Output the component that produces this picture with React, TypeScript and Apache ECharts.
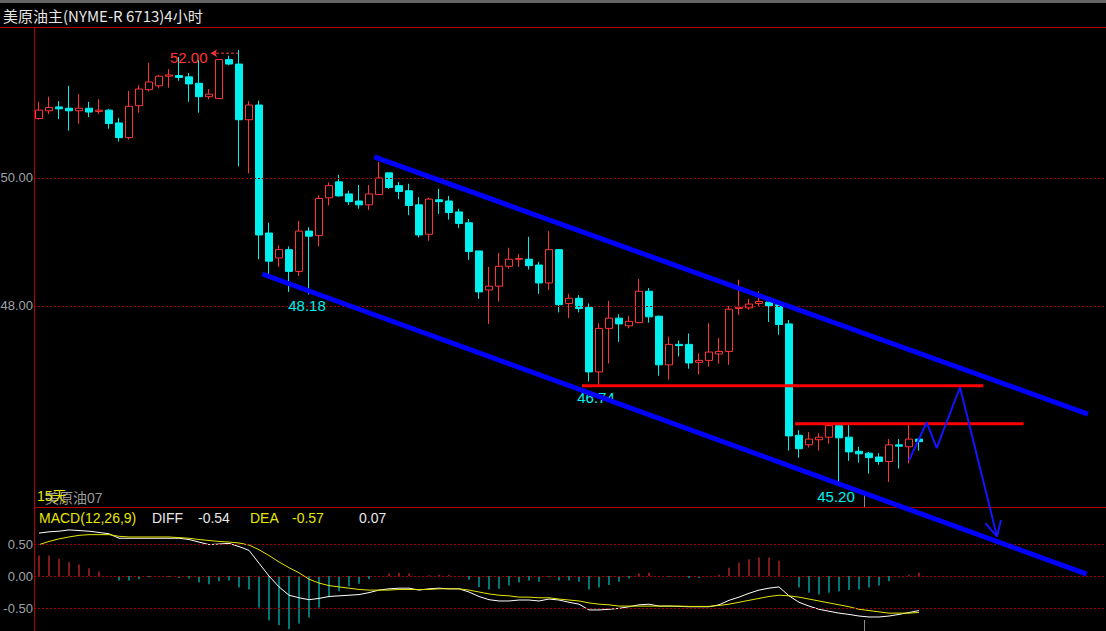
import React, { useEffect, useRef } from 'react';
import * as echarts from 'echarts';

// ---------- data ----------
const opens = [50.93, 51.05, 51.11, 51.09, 51.05, 51.09, 51.04, 51.06, 50.86, 50.63,
  51.13, 51.38, 51.44, 51.59, 51.60, 51.58, 51.48, 51.27, 51.24, 51.85,
  51.78, 50.91, 51.14, 49.14, 48.75, 48.88, 48.54, 49.17, 49.10, 49.69,
  49.94, 49.75, 49.64, 49.58, 49.74, 50.08, 49.88, 49.80, 49.58, 49.12,
  49.66, 49.64, 49.47, 49.30, 48.86, 48.25, 48.31, 48.62, 48.73, 48.73,
  48.64, 48.36, 48.88, 48.04, 48.12, 47.98, 46.97, 47.65, 47.81, 47.69,
  47.74, 48.23, 47.84, 47.08, 47.40, 47.40, 47.12, 47.15, 47.25, 47.29,
  47.96, 47.97, 48.04, 48.06, 48.02, 47.72, 45.98, 45.83, 45.91, 45.95,
  46.13, 45.95, 45.73, 45.70, 45.64, 45.57, 45.83, 45.80, 45.92];
const closes = [51.06, 51.10, 51.08, 51.05, 51.09, 51.03, 51.06, 50.85, 50.63, 51.12,
  51.39, 51.50, 51.59, 51.61, 51.57, 51.47, 51.27, 51.31, 51.85, 51.78,
  50.91, 51.14, 49.11, 48.70, 48.88, 48.54, 49.17, 49.09, 49.68, 49.88,
  49.72, 49.63, 49.58, 49.75, 50.00, 49.85, 49.79, 49.57, 49.11, 49.67,
  49.63, 49.46, 49.29, 48.85, 48.22, 48.31, 48.62, 48.73, 48.74, 48.63,
  48.36, 48.88, 48.02, 48.12, 47.96, 46.97, 47.65, 47.81, 47.72, 47.76,
  48.23, 47.83, 47.08, 47.40, 47.38, 47.11, 47.15, 47.28, 47.29, 47.95,
  47.98, 48.03, 48.07, 48.00, 47.71, 45.97, 45.77, 45.92, 45.95, 46.13,
  45.94, 45.72, 45.69, 45.63, 45.57, 45.83, 45.81, 45.92, 45.88];
const lows = [50.91, 51.00, 50.92, 50.74, 50.85, 50.95, 51.00, 50.77, 50.57, 50.60,
  51.02, 51.35, 51.40, 51.41, 51.52, 51.19, 51.02, 51.23, 51.24, 51.76,
  50.18, 50.07, 48.73, 48.48, 48.61, 48.22, 48.47, 48.18, 48.93, 49.57,
  49.71, 49.58, 49.52, 49.50, 49.74, 49.83, 49.67, 49.42, 49.07, 49.02,
  49.44, 49.35, 49.22, 48.72, 48.11, 47.72, 48.07, 48.58, 48.61, 48.57,
  48.19, 48.25, 47.90, 47.81, 47.90, 46.82, 46.74, 47.10, 47.44, 47.65,
  47.73, 47.74, 46.91, 46.85, 47.21, 47.02, 46.93, 47.05, 47.10, 47.08,
  47.86, 47.94, 48.00, 47.75, 47.55, 45.74, 45.63, 45.79, 45.74, 45.85,
  45.20, 45.58, 45.55, 45.38, 45.52, 45.25, 45.46, 45.54, 45.74];
const highs = [51.19, 51.27, 51.20, 51.44, 51.31, 51.19, 51.23, 51.08, 50.94, 51.36,
  51.45, 51.80, 51.61, 51.70, 51.89, 51.64, 51.84, 51.39, 51.85, 51.91,
  52.00, 51.20, 51.21, 49.30, 48.95, 48.93, 49.33, 49.23, 49.73, 49.93,
  50.05, 49.80, 49.89, 49.89, 50.25, 50.08, 49.94, 49.91, 49.70, 49.69,
  49.83, 49.72, 49.52, 49.36, 48.86, 48.61, 48.83, 48.91, 48.81, 49.08,
  48.69, 49.17, 48.89, 48.19, 48.17, 48.04, 47.73, 48.08, 47.87, 47.85,
  48.42, 48.28, 47.85, 47.52, 47.46, 47.57, 47.26, 47.73, 47.50, 48.00,
  48.41, 48.11, 48.23, 48.07, 48.09, 47.78, 46.06, 46.03, 46.01, 46.14,
  46.14, 46.14, 45.80, 45.72, 45.70, 45.92, 45.92, 46.15, 45.92];

const macdHist = [0.32, 0.32, 0.27, 0.22, 0.18, 0.12, 0.07, 0.00, -0.07, -0.07,
  -0.05, -0.02, -0.01, -0.01, -0.03, -0.04, -0.10, -0.13, -0.08, -0.07,
  -0.18, -0.21, -0.49, -0.69, -0.77, -0.83, -0.74, -0.65, -0.49, -0.33,
  -0.24, -0.16, -0.12, -0.05, 0.00, 0.04, 0.05, 0.04, -0.01, 0.01,
  0.02, 0.02, 0.00, -0.06, -0.17, -0.21, -0.20, -0.15, -0.10, -0.07,
  -0.09, -0.01, -0.07, -0.07, -0.09, -0.21, -0.18, -0.14, -0.09, -0.04,
  0.04, 0.05, -0.01, -0.01, 0.00, -0.03, -0.03, 0.00, 0.02, 0.13,
  0.21, 0.26, 0.29, 0.29, 0.24, 0.00, -0.18, -0.26, -0.29, -0.26,
  -0.24, -0.22, -0.21, -0.18, -0.15, -0.08, -0.02, 0.02, 0.05];
const diffLine = [0.67, 0.69, 0.70, 0.72, 0.71, 0.70, 0.68, 0.66, 0.59, 0.59,
  0.59, 0.59, 0.59, 0.59, 0.59, 0.57, 0.53, 0.49, 0.50, 0.51,
  0.46, 0.40, 0.20, 0.00, -0.17, -0.30, -0.34, -0.37, -0.35, -0.32,
  -0.31, -0.30, -0.29, -0.26, -0.22, -0.20, -0.19, -0.19, -0.22, -0.20,
  -0.19, -0.20, -0.20, -0.25, -0.32, -0.37, -0.39, -0.39, -0.375, -0.375,
  -0.39, -0.36, -0.375, -0.41, -0.44, -0.53, -0.53, -0.52, -0.505, -0.48,
  -0.45, -0.44, -0.47, -0.47, -0.475, -0.48, -0.48, -0.48, -0.45, -0.38,
  -0.33, -0.27, -0.22, -0.19, -0.17, -0.31, -0.41, -0.47, -0.52, -0.55,
  -0.58, -0.60, -0.625, -0.64, -0.64, -0.625, -0.60, -0.57, -0.54];
const deaLine = [0.49, 0.54, 0.58, 0.61, 0.635, 0.646, 0.646, 0.646, 0.62, 0.61,
  0.61, 0.61, 0.61, 0.61, 0.60, 0.59, 0.57, 0.555, 0.54, 0.53,
  0.516, 0.484, 0.41, 0.32, 0.22, 0.13, 0.05, -0.05, -0.11, -0.15,
  -0.17, -0.19, -0.21, -0.22, -0.22, -0.22, -0.21, -0.21, -0.21, -0.21,
  -0.20, -0.20, -0.20, -0.22, -0.25, -0.28, -0.30, -0.31, -0.33, -0.33,
  -0.34, -0.34, -0.36, -0.375, -0.39, -0.42, -0.44, -0.45, -0.47, -0.47,
  -0.47, -0.47, -0.47, -0.47, -0.47, -0.475, -0.475, -0.475, -0.46, -0.44,
  -0.41, -0.38, -0.35, -0.32, -0.30, -0.31, -0.33, -0.36, -0.39, -0.42,
  -0.45, -0.48, -0.52, -0.54, -0.56, -0.58, -0.58, -0.58, -0.57];

const priceTicks = [50, 48];
const macdTicks = [0.5, 0, -0.5];

// annotation lines, in [bar index, price]
const upperChannel = [[33.53, 50.33], [104.9, 46.31]];
const lowerChannel = [[22.33, 48.50], [104.77, 43.81]];
const resistance1 = [[54.3, 46.755], [94.43, 46.755]];
const resistance2 = [[75.6, 46.16], [98.45, 46.16]];
const forecastPath = [[87.0, 45.59], [88.77, 46.18], [89.77, 45.78], [92.1, 46.73], [95.8, 44.40]];
const arrowHead = [[94.63, 44.605], [95.8, 44.40], [96.2, 44.656]];
const highArrow = [[17.2, 51.95], [19.9, 51.95]];

const TOTAL_SLOTS = 107;
const slots = Array.from({ length: TOTAL_SLOTS }, (_, i) => String(i + 1));

const RED = '#ff3535';
const CYAN = '#00f0f0';
const FRAME = '#b40000';
const GRID = '#a00000';
const AXIS_TXT = '#9ea3aa';

function buildOption() {
  const candleData = opens.map((o, i) => [o, closes[i], lows[i], highs[i]]);
  const gridMark = (vals: number[], xi: number, yi: number) => ({
    type: 'line',
    xAxisIndex: xi,
    yAxisIndex: yi,
    data: [],
    z: 1,
    silent: true,
    markLine: {
      silent: true,
      symbol: ['none', 'none'],
      animation: false,
      lineStyle: { color: GRID, type: [2, 2], width: 1 },
      label: {
        show: true,
        position: 'start',
        distance: 1,
        color: AXIS_TXT,
        fontSize: 13,
        fontFamily: 'Liberation Sans, Arial, sans-serif',
      },
      data: vals.map((v) => ({ yAxis: v, label: { formatter: v.toFixed(2) } })),
    },
  });
  const overlay = (data: number[][], color: string, width: number, extra: any = {}) => ({
    type: 'line',
    xAxisIndex: 2,
    yAxisIndex: 0,
    data,
    symbol: 'none',
    clip: false,
    silent: true,
    z: 5,
    lineStyle: { color, width, ...extra },
  });
  const lowLabel = (idx: number, val: number, dx: number) => ({
    coord: [slots[idx], val],
    value: val.toFixed(2),
    label: {
      show: true,
      position: 'bottom',
      distance: 3,
      offset: [dx, 0],
      color: CYAN,
      fontSize: 15,
      fontFamily: 'Liberation Sans, Arial, sans-serif',
      formatter: val.toFixed(2),
    },
  });

  return {
    animation: false,
    backgroundColor: '#000',
    grid: [
      { left: 34, top: 27, width: 1070, height: 480 },
      { left: 34, top: 507, width: 1070, height: 124 },
    ],
    xAxis: [
      { type: 'category', gridIndex: 0, data: slots, show: false, boundaryGap: true },
      { type: 'category', gridIndex: 1, data: slots, show: false, boundaryGap: true },
      { type: 'value', gridIndex: 0, min: -0.5, max: TOTAL_SLOTS - 0.5, show: false },
    ],
    yAxis: [
      { type: 'value', gridIndex: 0, min: 44.859, max: 52.359, show: false, splitLine: { show: false } },
      { type: 'value', gridIndex: 1, min: -0.859, max: 1.078, show: false, splitLine: { show: false } },
    ],
    series: [
      gridMark(priceTicks, 0, 0),
      gridMark(macdTicks, 1, 1),
      {
        type: 'candlestick',
        xAxisIndex: 0,
        yAxisIndex: 0,
        data: candleData,
        barWidth: 8,
        z: 3,
        itemStyle: {
          color: '#000',
          color0: CYAN,
          borderColor: RED,
          borderColor0: CYAN,
          borderWidth: 1,
        },
        markPoint: {
          symbol: 'rect',
          symbolSize: 1,
          silent: true,
          animation: false,
          itemStyle: { color: 'rgba(0,0,0,0)' },
          data: [
            {
              coord: [slots[20], 52.0],
              value: '52.00',
              label: {
                show: true,
                position: 'left',
                distance: 0,
                offset: [-31, 8],
                color: RED,
                fontSize: 15,
                fontFamily: 'Liberation Sans, Arial, sans-serif',
                formatter: '52.00',
              },
            },
            lowLabel(27, 48.18, -2),
            lowLabel(56, 46.74, -3),
            lowLabel(80, 45.2, -3),
          ],
        },
      },
      {
        type: 'line',
        xAxisIndex: 2,
        yAxisIndex: 0,
        clip: false,
        silent: true,
        z: 4,
        showSymbol: true,
        symbol: 'none',
        lineStyle: { color: RED, width: 1, type: [3, 2] },
        data: [
          { value: highArrow[0], symbol: 'arrow', symbolSize: [6, 6], symbolRotate: 90, itemStyle: { color: RED } },
          { value: highArrow[1], symbol: 'none' },
        ],
      },
      overlay(upperChannel, '#0000ff', 5),
      overlay(lowerChannel, '#0000ff', 5),
      overlay(resistance1, '#ff0000', 3),
      overlay(resistance2, '#ff0000', 3),
      overlay(forecastPath, '#1414ff', 2),
      overlay(arrowHead, '#1414ff', 2),
      {
        type: 'bar',
        xAxisIndex: 1,
        yAxisIndex: 1,
        data: macdHist,
        barWidth: 1,
        z: 2,
        itemStyle: {
          color: (p: any) => (p.value >= 0 ? RED : CYAN),
        },
      },
      {
        type: 'line',
        xAxisIndex: 1,
        yAxisIndex: 1,
        data: diffLine,
        symbol: 'none',
        z: 3,
        lineStyle: { color: '#ffffff', width: 1 },
      },
      {
        type: 'line',
        xAxisIndex: 1,
        yAxisIndex: 1,
        data: deaLine,
        symbol: 'none',
        z: 3,
        lineStyle: { color: '#e6e600', width: 1 },
      },
    ],
    graphic: [
      { type: 'rect', shape: { x: 0, y: 0, width: 1106, height: 3 }, style: { fill: '#666666' }, silent: true },
      { type: 'line', shape: { x1: 0, y1: 27.5, x2: 1106, y2: 27.5 }, style: { stroke: FRAME, lineWidth: 1 }, silent: true },
      { type: 'line', shape: { x1: 34.5, y1: 27, x2: 34.5, y2: 631 }, style: { stroke: FRAME, lineWidth: 1 }, silent: true },
      { type: 'line', shape: { x1: 34, y1: 507.5, x2: 1106, y2: 507.5 }, style: { stroke: FRAME, lineWidth: 1 }, silent: true },
      { type: 'line', shape: { x1: 864.5, y1: 495, x2: 864.5, y2: 507 }, style: { stroke: '#8a8a8a', lineWidth: 1 }, silent: true },
      { type: 'line', shape: { x1: 864.5, y1: 620, x2: 864.5, y2: 631 }, style: { stroke: '#8a8a8a', lineWidth: 1 }, silent: true },
      {
        type: 'text', x: 3, y: 15, silent: true,
        style: { text: '美原油主(NYME-R 6713)4小时', fill: '#e6e6e6', font: '15px "Noto Sans CJK SC", sans-serif', textVerticalAlign: 'middle' },
      },
      {
        type: 'text', x: 45, y: 498, silent: true,
        style: { text: '美原油07', fill: '#9a9a9a', font: '14px "Liberation Sans", "Noto Sans CJK SC", sans-serif', textVerticalAlign: 'middle' },
      },
      {
        type: 'text', x: 37, y: 496, silent: true,
        style: { text: '15天', fill: '#e6e600', font: '14px "Liberation Sans", "Noto Sans CJK SC", sans-serif', textVerticalAlign: 'middle' },
      },
      {
        type: 'text', x: 39, y: 518, silent: true,
        style: { text: 'MACD(12,26,9)', fill: '#e6e600', font: '14px "Liberation Sans", Arial, sans-serif', textVerticalAlign: 'middle' },
      },
      {
        type: 'text', x: 152, y: 518, silent: true,
        style: { text: 'DIFF', fill: '#e8e8e8', font: '14px "Liberation Sans", Arial, sans-serif', textVerticalAlign: 'middle' },
      },
      {
        type: 'text', x: 198, y: 518, silent: true,
        style: { text: '-0.54', fill: '#e8e8e8', font: '14px "Liberation Sans", Arial, sans-serif', textVerticalAlign: 'middle' },
      },
      {
        type: 'text', x: 250, y: 518, silent: true,
        style: { text: 'DEA', fill: '#e6e600', font: '14px "Liberation Sans", Arial, sans-serif', textVerticalAlign: 'middle' },
      },
      {
        type: 'text', x: 292, y: 518, silent: true,
        style: { text: '-0.57', fill: '#e6e600', font: '14px "Liberation Sans", Arial, sans-serif', textVerticalAlign: 'middle' },
      },
      {
        type: 'text', x: 359, y: 518, silent: true,
        style: { text: '0.07', fill: '#e8e8e8', font: '14px "Liberation Sans", Arial, sans-serif', textVerticalAlign: 'middle' },
      },
    ],
  };
}

export default function App() {
  const ref = useRef<HTMLDivElement>(null);
  useEffect(() => {
    if (!ref.current) return;
    const chart = echarts.init(ref.current, null, { renderer: 'svg' });
    chart.setOption(buildOption() as any);
    return () => chart.dispose();
  }, []);
  return (
    <div
      ref={ref}
      style={{ position: 'fixed', left: 0, top: 0, width: 1106, height: 631, background: '#000' }}
    />
  );
}
